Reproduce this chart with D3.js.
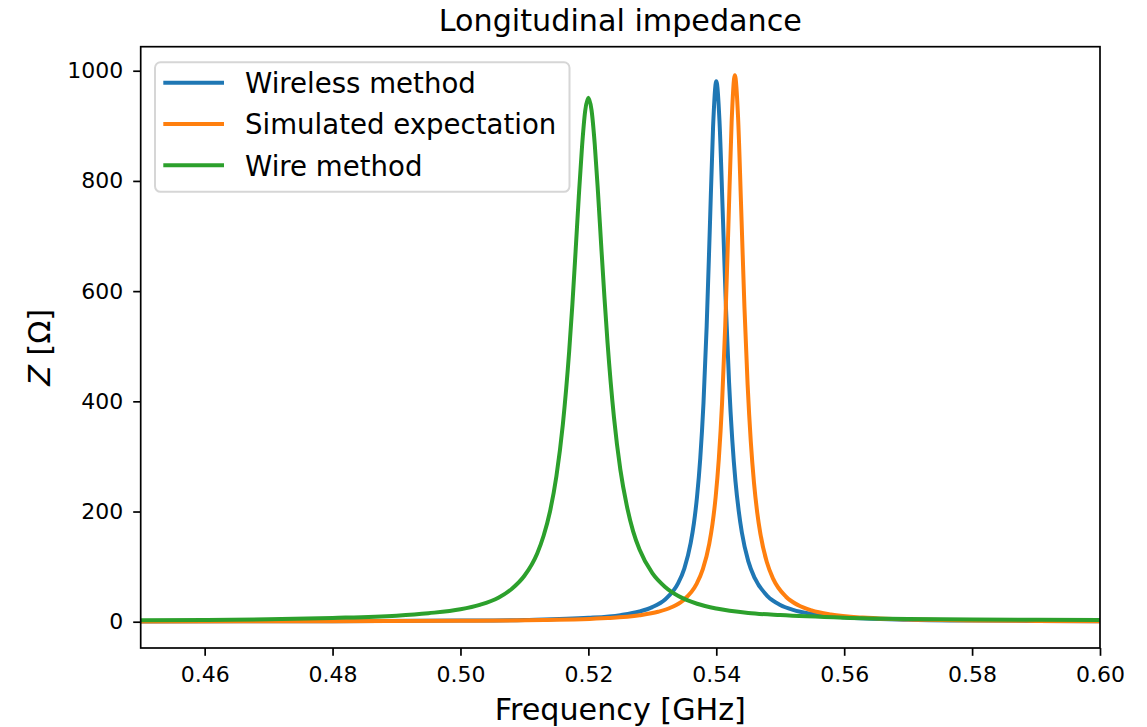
<!DOCTYPE html>
<html><head><meta charset="utf-8">
<script src="https://cdn.jsdelivr.net/npm/d3@7"></script>
<style>
body{margin:0;background:#fff}
svg{display:block}
text{font-family:"DejaVu Sans",sans-serif;fill:#000}
</style>
</head><body>
<svg id="chart" width="1147" height="727"></svg>
<script>
const chartTitle = "Longitudinal impedance";
const xLabel = "Frequency [GHz]";
const seriesNames = ["Wireless method", "Simulated expectation", "Wire method"];
const seriesColors = ["#1f77b4", "#ff7f0e", "#2ca02c"];
const xTicks = [0.46, 0.48, 0.50, 0.52, 0.54, 0.56, 0.58, 0.60];
const yTicks = [0, 200, 400, 600, 800, 1000];

// Wireless method (blue)
const wirelessFreq = [0.45,0.48,0.50,0.51,0.52,0.525,0.528,0.530,0.532,0.534,0.535,0.536,0.5365,0.537,0.5375,0.538,0.5385,0.539,0.5395,0.540,0.5405,0.541,0.5415,0.542,0.5425,0.543,0.5435,0.544,0.545,0.546,0.548,0.550,0.552,0.555,0.560,0.570,0.580,0.590,0.600];
const wirelessZ    = [0.6,1.0,2.0,3.3,7.0,12.0,18.5,26.5,40.5,69,96.5,143,178.5,228,297.5,397,537,717.5,898.5,981,909,746,574,434,330,255,202,162,110,79.5,46.5,30.5,21.5,14,8,3.6,2.1,1.4,1.0];

// Simulated expectation (orange)
const simFreq = [0.45,0.48,0.50,0.513,0.523,0.528,0.5309,0.5329,0.5349,0.5369,0.5379,0.5389,0.5394,0.5399,0.5404,0.5409,0.5414,0.5419,0.5424,0.5429,0.5434,0.5439,0.5444,0.5449,0.5454,0.5459,0.5464,0.5469,0.5479,0.5489,0.5509,0.5529,0.5549,0.5579,0.5629,0.5729,0.58,0.59,0.60];
const simZ    = [0.5,0.9,1.6,2.9,6.6,11.8,18.0,25.7,39.5,68.2,95.3,141.3,176.8,226.1,295.9,395.9,537.1,720.7,906.7,992,917.2,747.8,571.8,430.2,326.2,251.8,198.4,159.4,108.3,77.7,45.3,29.5,20.7,13.3,7.5,3.4,2.3,1.5,1.0];

// Wire method (green)
const wireFreq = [0.45,0.46,0.47,0.48,0.49,0.495,0.50,0.503,0.506,0.508,0.510,0.512,0.513,0.514,0.515,0.516,0.517,0.5175,0.518,0.5185,0.519,0.5195,0.520,0.5205,0.521,0.5215,0.522,0.5225,0.523,0.524,0.525,0.526,0.527,0.528,0.530,0.532,0.534,0.537,0.540,0.545,0.55,0.56,0.57,0.58,0.59,0.60];
const wireZ    = [2.8,3.3,4.4,6.8,11.0,15.5,22.5,30.5,44,59.5,83.4,124,156,200,264,357,491,576,672,771,861,927,951,928,866,780,684,591,506,371,276,211,164,131,88,63,47,32.6,24,16,12,7.4,5.1,4.0,3.4,3.0];

const W = 1147, H = 727;
const svg = d3.select("#chart");
const plot = {left: 140.7, right: 1100, top: 46.7, bottom: 648};

const x = d3.scaleLinear().domain([0.45, 0.60]).range([plot.left, plot.right]);
const y = d3.scaleLinear().domain([-47.7, 1043.6]).range([plot.bottom, plot.top]);

svg.append("rect").attr("width", W).attr("height", H).attr("fill", "#fff");

svg.append("clipPath").attr("id", "clip").append("rect")
  .attr("x", plot.left).attr("y", plot.top)
  .attr("width", plot.right - plot.left).attr("height", plot.bottom - plot.top);

const series = [
  {name: seriesNames[0], color: seriesColors[0], f: wirelessFreq, z: wirelessZ},
  {name: seriesNames[1], color: seriesColors[1], f: simFreq, z: simZ},
  {name: seriesNames[2], color: seriesColors[2], f: wireFreq, z: wireZ}
];

const line = d3.line().x(d => x(d[0])).y(d => y(d[1])).curve(d3.curveMonotoneX);
const g = svg.append("g").attr("clip-path", "url(#clip)");
series.forEach(s => {
  g.append("path")
    .datum(s.f.map((f, i) => [f, s.z[i]]))
    .attr("d", line)
    .attr("fill", "none")
    .attr("stroke", s.color)
    .attr("stroke-width", 4)
    .attr("stroke-linejoin", "round")
    .attr("stroke-linecap", "butt");
});

// axes
const xAxis = svg.append("g").attr("transform", `translate(0,${plot.bottom})`)
  .call(d3.axisBottom(x).tickValues(xTicks).tickFormat(d3.format(".2f")).tickSize(7.8).tickPadding(10.2));
const yAxis = svg.append("g").attr("transform", `translate(${plot.left},0)`)
  .call(d3.axisLeft(y).tickValues(yTicks).tickFormat(d3.format("d")).tickSize(7.5).tickPadding(9.9));
[xAxis, yAxis].forEach(a => {
  a.select(".domain").remove();
  a.selectAll(".tick line").attr("stroke", "#000").attr("stroke-width", 1.7);
  a.selectAll(".tick text").attr("font-size", 22).attr("font-family", "DejaVu Sans").attr("fill", "#000");
});

// frame
svg.append("rect")
  .attr("x", plot.left).attr("y", plot.top)
  .attr("width", plot.right - plot.left).attr("height", plot.bottom - plot.top)
  .attr("fill", "none").attr("stroke", "#000").attr("stroke-width", 1.7);

// title and labels
svg.append("text").attr("x", (plot.left + plot.right) / 2).attr("y", 31)
  .attr("text-anchor", "middle").attr("font-size", 30.2).text(chartTitle);
svg.append("text").attr("x", (plot.left + plot.right) / 2).attr("y", 719.5)
  .attr("text-anchor", "middle").attr("font-size", 30.2).text(xLabel);
const yl = svg.append("text").attr("transform", `translate(49.5,${(plot.top + plot.bottom) / 2}) rotate(-90)`)
  .attr("text-anchor", "middle").attr("font-size", 30.2);
yl.append("tspan").attr("font-style", "italic").text("Z");
yl.append("tspan").text(" [Ω]");

// legend
const lg = svg.append("g");
lg.append("rect").attr("x", 155).attr("y", 62.3).attr("width", 414.5).attr("height", 129.5)
  .attr("rx", 5.5).attr("fill", "#fff").attr("fill-opacity", 0.8)
  .attr("stroke", "#d6d6d6").attr("stroke-width", 2);
series.forEach((s, i) => {
  const ly = 82.7 + i * 41.3;
  lg.append("line").attr("x1", 163.3).attr("x2", 224).attr("y1", ly).attr("y2", ly)
    .attr("stroke", s.color).attr("stroke-width", 4);
  lg.append("text").attr("x", 245).attr("y", ly + 10.4).attr("font-size", 27.6).text(s.name);
});
</script>
</body></html>
